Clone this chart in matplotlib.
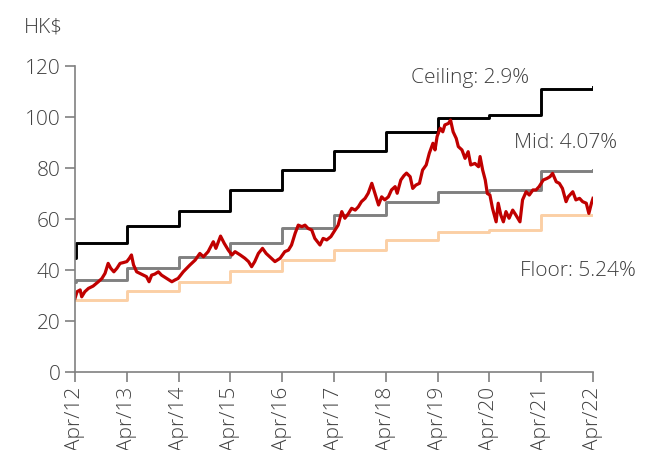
import matplotlib.pyplot as plt

# annual band levels, reset every April (decimal years)
band_years = [2012.25, 2012.26, 2013.25, 2014.25, 2015.25, 2016.25, 2017.25,
              2018.25, 2019.25, 2020.25, 2021.25, 2022.22, 2022.25]
ceiling = [44.7, 50.5, 57.4, 63.3, 71.3, 79.1, 86.6, 94.0, 99.8, 100.8, 110.9, 110.9, 111.6]
mid = [35.4, 36.1, 40.8, 45.0, 50.6, 56.3, 61.6, 66.8, 70.5, 71.4, 78.9, 78.9, 79.2]
floor_ = [28.2, 28.2, 31.9, 35.2, 39.6, 43.9, 47.8, 51.8, 54.9, 55.6, 61.6, 61.6, 61.6]

# share price, HK$
price_x = [2012.25, 2012.29, 2012.35, 2012.38, 2012.44, 2012.51, 2012.60, 2012.70,
           2012.77, 2012.83, 2012.89, 2012.94, 2013.00, 2013.06, 2013.12, 2013.18,
           2013.25, 2013.30, 2013.34, 2013.38, 2013.44, 2013.50, 2013.57, 2013.63,
           2013.68, 2013.73, 2013.79, 2013.86, 2013.92, 2014.02, 2014.12, 2014.18,
           2014.24, 2014.34, 2014.47, 2014.57, 2014.66, 2014.73, 2014.82, 2014.92,
           2014.97, 2015.06, 2015.13, 2015.21, 2015.28, 2015.34, 2015.44, 2015.53,
           2015.60, 2015.66, 2015.72, 2015.79, 2015.87, 2015.94, 2016.01, 2016.11,
           2016.21, 2016.30, 2016.37, 2016.43, 2016.50, 2016.56, 2016.63, 2016.69,
           2016.75, 2016.82, 2016.88, 2016.98, 2017.04, 2017.11, 2017.19, 2017.25,
           2017.33, 2017.40, 2017.46, 2017.53, 2017.59, 2017.66, 2017.72, 2017.78,
           2017.85, 2017.91, 2017.98, 2018.04, 2018.11, 2018.17, 2018.23, 2018.30,
           2018.36, 2018.43, 2018.47, 2018.54, 2018.60, 2018.65, 2018.72, 2018.77,
           2018.83, 2018.90, 2018.96, 2019.03, 2019.09, 2019.16, 2019.20, 2019.24,
           2019.30, 2019.35, 2019.39, 2019.46, 2019.50, 2019.55, 2019.61, 2019.65,
           2019.72, 2019.78, 2019.84, 2019.89, 2019.97, 2020.04, 2020.07, 2020.12,
           2020.17, 2020.21, 2020.26, 2020.31, 2020.38, 2020.42, 2020.47, 2020.52,
           2020.57, 2020.63, 2020.70, 2020.76, 2020.84, 2020.89, 2020.96, 2021.02,
           2021.09, 2021.15, 2021.21, 2021.29, 2021.36, 2021.42, 2021.47, 2021.54,
           2021.60, 2021.66, 2021.73, 2021.77, 2021.86, 2021.92, 2021.99, 2022.05,
           2022.12, 2022.17, 2022.22, 2022.25]
price = [28.9, 31.5, 32.2, 29.5, 31.5, 32.8, 33.7, 35.4,
         36.7, 38.7, 42.6, 40.7, 39.3, 40.7, 42.6, 42.9,
         43.3, 44.6, 45.9, 42.0, 39.3, 38.7, 38.0, 37.4,
         35.4, 38.0, 38.4, 39.3, 38.0, 36.7, 35.4, 36.1,
         36.7, 39.3, 42.0, 43.9, 46.5, 45.2, 47.2, 51.1,
         48.5, 53.3, 50.5, 47.8, 45.9, 47.2, 45.9, 44.6,
         43.3, 41.3, 43.3, 46.5, 48.5, 46.5, 45.2, 43.3,
         44.6, 47.2, 47.8, 49.8, 54.4, 57.6, 57.0, 57.6,
         56.3, 55.7, 52.4, 49.8, 52.4, 51.8, 53.1, 55.0,
         57.6, 62.9, 60.3, 62.2, 64.2, 63.5, 64.8, 66.8,
         68.1, 70.1, 74.0, 70.1, 65.5, 68.7, 67.5, 68.7,
         71.4, 72.7, 70.1, 75.3, 77.0, 78.0, 76.6, 72.0,
         73.3, 74.0, 79.2, 81.2, 85.8, 89.7, 87.1, 92.3,
         95.6, 94.2, 96.9, 97.5, 98.8, 94.2, 91.6, 88.4,
         87.1, 83.8, 86.4, 81.2, 81.8, 80.5, 84.5, 79.2,
         75.3, 70.0, 69.4, 64.2, 58.9, 66.2, 61.6, 58.9,
         62.9, 60.3, 63.5, 61.6, 58.9, 67.5, 70.7, 69.4,
         71.4, 71.4, 72.7, 75.3, 75.9, 76.6, 77.9, 74.6,
         74.0, 72.0, 66.8, 68.7, 70.7, 67.5, 68.1, 66.8,
         66.2, 62.2, 66.2, 68.1]

tick_years = list(range(2012, 2023))
tick_labels = [f"Apr/{y % 100:02d}" for y in tick_years]

plt.rcParams['font.family'] = ['Open Sans', 'DejaVu Sans']
text_color = '#404040'
axis_color = '#808080'
fs = 15

fig = plt.figure(figsize=(6.51, 4.5), dpi=100)
ax = fig.add_axes([0.1152, 0.1733, 0.7957, 0.68])

lw = 2.1
ax.step(band_years, floor_, where='post', color='#FBCFA5', lw=lw)
ax.step(band_years, mid, where='post', color='#808080', lw=lw)
ax.step(band_years, ceiling, where='post', color='#000000', lw=lw)
ax.plot(price_x, price, color='#C00000', lw=2.3)

ax.set_xlim(2012.25, 2022.25)
ax.set_ylim(0, 120)
ax.set_yticks(range(0, 121, 20))
ax.set_xticks([y + 0.25 for y in tick_years])
ax.set_xticklabels(tick_labels, rotation=90)

for side in ('top', 'right'):
    ax.spines[side].set_visible(False)
for side in ('left', 'bottom'):
    ax.spines[side].set_color(axis_color)
    ax.spines[side].set_linewidth(1.2)
ax.tick_params(colors=axis_color, labelcolor=text_color, labelsize=fs,
               length=7, width=1.2, direction='out')
for lab in ax.get_xticklabels() + ax.get_yticklabels():
    lab.set_fontweight('light')

ax.text(2019.88, 111.5, "Ceiling: 2.9%", color=text_color, fontsize=fs,
        fontweight='light', ha='center', va='bottom')
ax.text(2021.73, 86, "Mid: 4.07%", color=text_color, fontsize=fs,
        fontweight='light', ha='center', va='bottom')
ax.text(2021.96, 35.5, "Floor: 5.24%", color=text_color, fontsize=fs,
        fontweight='light', ha='center', va='bottom')
fig.text(0.037, 0.94, "HK$", color=text_color, fontsize=fs,
         fontweight='light', ha='left', va='center')

fig.savefig("out.png", dpi=100)
